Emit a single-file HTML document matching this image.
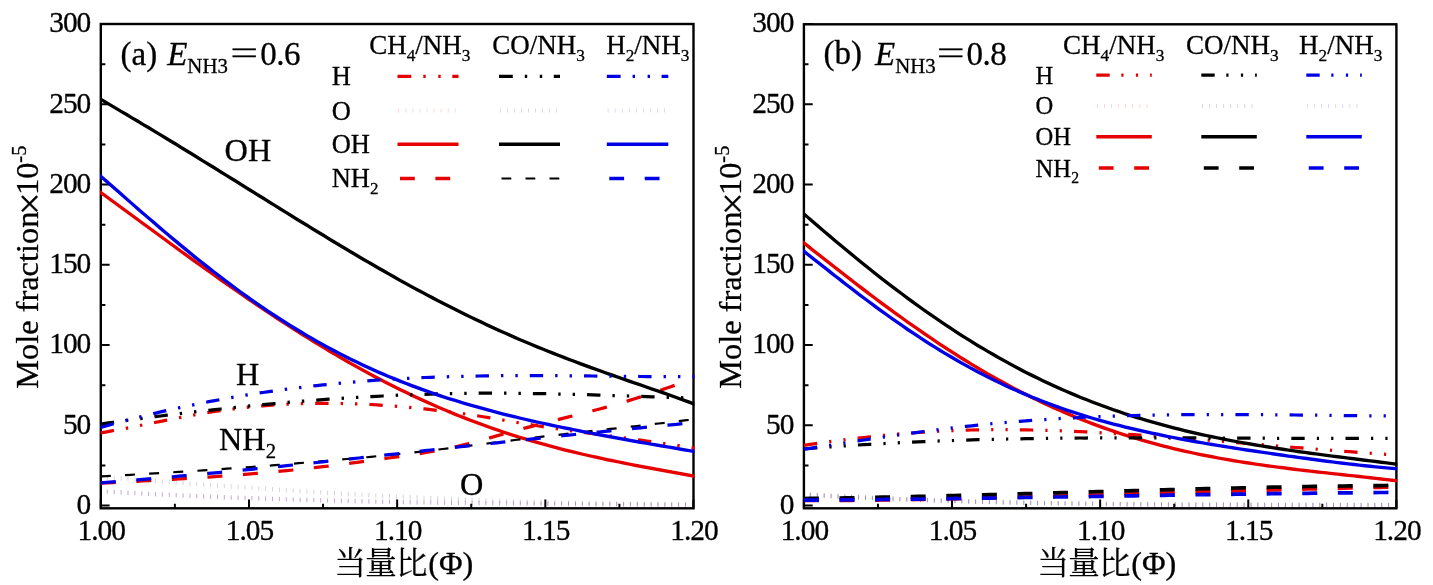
<!DOCTYPE html>
<html lang="zh"><head><meta charset="utf-8"><title>Mole fraction</title>
<style>
html,body{margin:0;padding:0;background:#fff;}
body{width:1433px;height:585px;overflow:hidden;}
svg{display:block;font-family:"Liberation Serif","Noto Serif CJK SC",serif;fill:#000;}
text{stroke:#000;stroke-width:0.3px;stroke-linejoin:round;}
.tk{font-size:29.4px;letter-spacing:-1px;}
.sb{font-size:0.62em;}
</style></head><body>
<svg width="1433" height="585" viewBox="0 0 1433 585">
<rect width="1433" height="585" fill="#fff"/>
<path d="M100.80,508.3 v-8.8 M174.89,508.3 v-4.6 M248.98,508.3 v-8.8 M323.06,508.3 v-4.6 M397.15,508.3 v-8.8 M471.24,508.3 v-4.6 M545.33,508.3 v-8.8 M619.41,508.3 v-4.6 M693.50,508.3 v-8.8 M100.8,505.50 h8.8 M100.8,465.38 h4.6 M100.8,425.27 h8.8 M100.8,385.15 h4.6 M100.8,345.03 h8.8 M100.8,304.92 h4.6 M100.8,264.80 h8.8 M100.8,224.68 h4.6 M100.8,184.57 h8.8 M100.8,144.45 h4.6 M100.8,104.33 h8.8 M100.8,64.22 h4.6 M100.8,24.10 h8.8" stroke="#000" stroke-width="2" fill="none"/>
<rect x="100.8" y="24.0" width="592.7" height="484.3" fill="none" stroke="#000" stroke-width="2.4"/>
<clipPath id="ca"><rect x="100.1" y="24.0" width="594.6" height="484.3"/></clipPath>
<g clip-path="url(#ca)" fill="none">
<path d="M100.8,432.8 106.8,431.8 112.8,430.7 118.8,429.6 124.8,428.5 130.8,427.3 136.8,426.1 142.8,424.9 148.8,423.7 154.8,422.5 160.8,421.3 166.8,420.1 172.8,419.0 178.8,417.8 184.8,416.7 190.8,415.6 196.8,414.5 202.8,413.4 208.8,412.5 214.8,411.5 220.8,410.6 226.8,409.8 232.8,409.0 238.8,408.3 244.8,407.6 250.8,406.9 256.8,406.4 262.8,405.8 268.8,405.4 274.8,404.9 280.8,404.6 286.8,404.2 292.8,404.0 298.8,403.7 304.8,403.6 310.8,403.4 316.8,403.3 322.8,403.3 328.8,403.3 334.8,403.4 340.8,403.5 346.8,403.6 352.8,403.8 358.8,404.0 364.8,404.2 370.8,404.5 376.8,404.9 382.8,405.3 388.8,405.7 394.8,406.1 400.7,406.6 406.7,407.1 412.7,407.7 418.7,408.3 424.7,408.9 430.7,409.6 436.7,410.3 442.7,411.0 448.7,411.7 454.7,412.5 460.7,413.3 466.7,414.2 472.7,415.1 478.7,416.0 484.7,417.0 490.7,418.0 496.7,419.0 502.7,420.0 508.7,421.0 514.7,422.0 520.7,423.1 526.7,424.1 532.7,425.0 538.7,426.0 544.7,426.9 550.7,427.8 556.7,428.7 562.7,429.5 568.7,430.4 574.7,431.2 580.7,432.0 586.7,432.8 592.7,433.6 598.7,434.4 604.7,435.2 610.7,436.0 616.7,436.9 622.7,437.7 628.7,438.5 634.7,439.3 640.7,440.2 646.7,441.0 652.7,441.8 658.7,442.7 664.7,443.6 670.7,444.4 676.7,445.3 682.7,446.2 688.7,447.1 694.7,448.0" stroke="#e60000" stroke-width="3.25" stroke-dasharray="13.4 12.00 2.4 12.00 2.4 12.00" stroke-dashoffset="0"/>
<path d="M107.3,489.4v4.4M114.2,489.8v4.4M121.1,490.2v4.4M128.0,490.6v4.4M134.9,490.9v4.4M141.8,491.3v4.4M148.6,491.7v4.4M155.5,492.0v4.4M162.4,492.3v4.4M169.3,492.7v4.4M176.2,493.0v4.4M183.1,493.3v4.4M189.9,493.6v4.4M196.8,493.9v4.4M203.7,494.2v4.4M210.6,494.5v4.4M217.5,494.8v4.4M224.3,495.0v4.4M231.2,495.3v4.4M238.1,495.6v4.4M245.0,495.8v4.4M251.9,496.0v4.4M258.8,496.3v4.4M265.6,496.5v4.4M272.5,496.7v4.4M279.4,496.9v4.4M286.3,497.2v4.4M293.2,497.4v4.4M300.1,497.6v4.4M306.9,497.7v4.4M313.8,497.9v4.4M320.7,498.1v4.4M327.6,498.3v4.4M334.5,498.5v4.4M341.4,498.6v4.4M348.2,498.8v4.4M355.1,498.9v4.4M362.0,499.1v4.4M368.9,499.2v4.4M375.8,499.4v4.4M382.7,499.5v4.4M389.5,499.6v4.4M396.4,499.8v4.4M403.3,499.9v4.4M410.2,500.0v4.4M417.1,500.1v4.4M424.0,500.2v4.4M430.8,500.3v4.4M437.7,500.4v4.4M444.6,500.5v4.4M451.5,500.6v4.4M458.4,500.7v4.4M465.3,500.8v4.4M472.1,500.9v4.4M479.0,501.0v4.4M485.9,501.1v4.4M492.8,501.2v4.4M499.7,501.2v4.4M506.6,501.3v4.4M513.4,501.4v4.4M520.3,501.4v4.4M527.2,501.5v4.4M534.1,501.6v4.4M541.0,501.6v4.4M547.9,501.7v4.4M554.7,501.8v4.4M561.6,501.8v4.4M568.5,501.9v4.4M575.4,501.9v4.4M582.3,502.0v4.4M589.1,502.0v4.4M596.0,502.1v4.4M602.9,502.1v4.4M609.8,502.2v4.4M616.7,502.2v4.4M623.6,502.3v4.4M630.4,502.3v4.4M637.3,502.4v4.4M644.2,502.4v4.4M651.1,502.5v4.4M658.0,502.5v4.4M664.9,502.6v4.4M671.7,502.6v4.4M678.6,502.7v4.4M685.5,502.7v4.4M692.4,502.8v4.4" stroke="#d00000" stroke-opacity="0.28" stroke-width="0.55"/>
<path d="M100.1,190.0 105.6,194.0 111.0,198.0 116.5,202.0 121.9,205.9 127.4,209.9 132.8,213.9 138.3,217.9 143.7,221.9 149.2,226.0 154.7,230.0 160.1,234.0 165.6,237.9 171.0,241.9 176.5,245.9 181.9,249.9 187.4,253.8 192.8,257.8 198.3,261.7 203.7,265.6 209.2,269.5 214.7,273.4 220.1,277.3 225.6,281.1 231.0,285.0 236.5,288.8 241.9,292.5 247.4,296.3 252.8,300.0 258.3,303.7 263.8,307.4 269.2,311.1 274.7,314.7 280.1,318.3 285.6,321.8 291.0,325.3 296.5,328.8 301.9,332.3 307.4,335.7 312.8,339.1 318.3,342.4 323.8,345.7 329.2,349.0 334.7,352.2 340.1,355.4 345.6,358.6 351.0,361.7 356.5,364.7 361.9,367.7 367.4,370.7 372.9,373.7 378.3,376.6 383.8,379.4 389.2,382.2 394.7,385.0 400.1,387.7 405.6,390.3 411.0,393.0 416.5,395.5 421.9,398.1 427.4,400.5 432.9,403.0 438.3,405.4 443.8,407.7 449.2,410.0 454.7,412.2 460.1,414.4 465.6,416.6 471.0,418.7 476.5,420.8 482.0,422.8 487.4,424.7 492.9,426.7 498.3,428.6 503.8,430.4 509.2,432.2 514.7,433.9 520.1,435.7 525.6,437.3 531.0,438.9 536.5,440.5 542.0,442.1 547.4,443.6 552.9,445.1 558.3,446.5 563.8,447.9 569.2,449.3 574.7,450.6 580.1,451.9 585.6,453.2 591.1,454.4 596.5,455.6 602.0,456.8 607.4,458.0 612.9,459.1 618.3,460.2 623.8,461.3 629.2,462.4 634.7,463.5 640.1,464.5 645.6,465.5 651.1,466.5 656.5,467.6 662.0,468.6 667.4,469.5 672.9,470.5 678.3,471.5 683.8,472.5 689.2,473.5 694.7,474.5 694.7,477.9 689.2,476.9 683.8,475.9 678.3,474.9 672.9,473.9 667.4,473.0 662.0,472.0 656.5,471.0 651.1,470.0 645.6,468.9 640.1,467.9 634.7,466.9 629.2,465.8 623.8,464.7 618.3,463.6 612.9,462.5 607.4,461.4 602.0,460.2 596.5,459.1 591.1,457.8 585.6,456.6 580.1,455.3 574.7,454.0 569.2,452.7 563.8,451.4 558.3,450.0 552.9,448.5 547.4,447.1 542.0,445.6 536.5,444.0 531.0,442.4 525.6,440.8 520.1,439.2 514.7,437.5 509.2,435.7 503.8,433.9 498.3,432.1 492.9,430.2 487.4,428.3 482.0,426.3 476.5,424.3 471.0,422.3 465.6,420.2 460.1,418.0 454.7,415.9 449.2,413.6 443.8,411.3 438.3,409.0 432.9,406.6 427.4,404.2 421.9,401.7 416.5,399.2 411.0,396.7 405.6,394.1 400.1,391.4 394.7,388.7 389.2,386.0 383.8,383.2 378.3,380.3 372.9,377.5 367.4,374.5 361.9,371.6 356.5,368.6 351.0,365.5 345.6,362.4 340.1,359.3 334.7,356.1 329.2,352.9 323.8,349.6 318.3,346.3 312.8,343.0 307.4,339.6 301.9,336.2 296.5,332.8 291.0,329.3 285.6,325.8 280.1,322.3 274.7,318.7 269.2,315.1 263.8,311.4 258.3,307.8 252.8,304.1 247.4,300.4 241.9,296.6 236.5,292.8 231.0,289.0 225.6,285.2 220.1,281.4 214.7,277.5 209.2,273.6 203.7,269.8 198.3,265.8 192.8,261.9 187.4,258.0 181.9,254.0 176.5,250.1 171.0,246.1 165.6,242.1 160.1,238.1 154.7,234.1 149.2,230.1 143.7,226.1 138.3,222.1 132.8,218.1 127.4,214.1 121.9,210.1 116.5,206.1 111.0,202.1 105.6,198.1 100.1,194.2Z" fill="#e60000"/>
<path d="M100.8,483.2 106.8,482.9 112.8,482.6 118.8,482.3 124.8,482.0 130.8,481.7 136.8,481.4 142.8,481.0 148.8,480.7 154.8,480.4 160.8,480.1 166.8,479.7 172.8,479.4 178.8,479.0 184.8,478.6 190.8,478.3 196.8,477.9 202.8,477.5 208.8,477.1 214.8,476.7 220.8,476.2 226.8,475.8 232.8,475.3 238.8,474.9 244.8,474.4 250.8,473.9 256.8,473.4 262.8,472.9 268.8,472.3 274.8,471.8 280.8,471.2 286.8,470.6 292.8,470.0 298.8,469.4 304.8,468.7 310.8,468.1 316.8,467.4 322.8,466.7 328.8,466.0 334.8,465.2 340.8,464.5 346.8,463.7 352.8,462.9 358.8,462.1 364.8,461.3 370.8,460.5 376.8,459.6 382.8,458.8 388.8,458.0 394.8,457.2 400.7,456.3 406.7,455.5 412.7,454.6 418.7,453.7 424.7,452.7 430.7,451.7 436.7,450.7 442.7,449.6 448.7,448.4 454.7,447.1 460.7,445.7 466.7,444.2 472.7,442.6 478.7,441.0 484.7,439.3 490.7,437.6 496.7,435.9 502.7,434.2 508.7,432.5 514.7,430.9 520.7,429.3 526.7,427.6 532.7,426.1 538.7,424.5 544.7,423.0 550.7,421.5 556.7,419.9 562.7,418.4 568.7,416.9 574.7,415.4 580.7,413.9 586.7,412.4 592.7,410.8 598.7,409.2 604.7,407.6 610.7,405.9 616.7,404.2 622.7,402.5 628.7,400.6 634.7,398.8 640.7,396.9 646.7,394.9 652.7,392.9 658.7,390.9 664.7,388.8 670.7,386.7 676.7,384.7 682.7,382.6 688.7,380.6 694.7,378.6" stroke="#e60000" stroke-width="3.25" stroke-dasharray="15 20.6" stroke-dashoffset="0"/>
<path d="M100.8,424.0 106.8,423.2 112.8,422.3 118.8,421.5 124.8,420.7 130.8,419.9 136.8,419.1 142.8,418.3 148.8,417.5 154.8,416.7 160.8,416.0 166.8,415.2 172.8,414.5 178.8,413.8 184.8,413.0 190.8,412.3 196.8,411.6 202.8,411.0 208.8,410.3 214.8,409.6 220.8,409.0 226.8,408.3 232.8,407.7 238.8,407.1 244.8,406.4 250.8,405.8 256.8,405.3 262.8,404.7 268.8,404.1 274.8,403.6 280.8,403.0 286.8,402.5 292.8,402.0 298.8,401.5 304.8,401.0 310.8,400.5 316.8,400.1 322.8,399.6 328.8,399.2 334.8,398.8 340.8,398.4 346.8,398.0 352.8,397.6 358.8,397.3 364.8,396.9 370.8,396.6 376.8,396.3 382.8,396.0 388.8,395.7 394.8,395.4 400.7,395.1 406.7,394.9 412.7,394.7 418.7,394.5 424.7,394.3 430.7,394.1 436.7,393.9 442.7,393.8 448.7,393.6 454.7,393.5 460.7,393.4 466.7,393.3 472.7,393.3 478.7,393.2 484.7,393.2 490.7,393.2 496.7,393.2 502.7,393.2 508.7,393.2 514.7,393.3 520.7,393.3 526.7,393.4 532.7,393.5 538.7,393.6 544.7,393.7 550.7,393.8 556.7,394.0 562.7,394.1 568.7,394.3 574.7,394.4 580.7,394.6 586.7,394.7 592.7,394.9 598.7,395.1 604.7,395.3 610.7,395.5 616.7,395.6 622.7,395.8 628.7,396.0 634.7,396.2 640.7,396.4 646.7,396.6 652.7,396.8 658.7,397.0 664.7,397.2 670.7,397.4 676.7,397.6 682.7,397.8 688.7,398.0 694.7,398.2" stroke="#000" stroke-width="3.25" stroke-dasharray="13.4 12.00 2.4 12.00 2.4 12.00" stroke-dashoffset="0"/>
<path d="M107.3,475.3v4.4M114.2,475.8v4.4M121.1,476.3v4.4M128.0,476.8v4.4M134.9,477.3v4.4M141.8,477.8v4.4M148.6,478.3v4.4M155.5,478.8v4.4M162.4,479.3v4.4M169.3,479.8v4.4M176.2,480.3v4.4M183.1,480.8v4.4M189.9,481.3v4.4M196.8,481.8v4.4M203.7,482.3v4.4M210.6,482.8v4.4M217.5,483.3v4.4M224.3,483.8v4.4M231.2,484.3v4.4M238.1,484.7v4.4M245.0,485.2v4.4M251.9,485.7v4.4M258.8,486.2v4.4M265.6,486.6v4.4M272.5,487.1v4.4M279.4,487.6v4.4M286.3,488.0v4.4M293.2,488.5v4.4M300.1,488.9v4.4M306.9,489.3v4.4M313.8,489.8v4.4M320.7,490.2v4.4M327.6,490.6v4.4M334.5,491.0v4.4M341.4,491.4v4.4M348.2,491.8v4.4M355.1,492.2v4.4M362.0,492.6v4.4M368.9,493.0v4.4M375.8,493.3v4.4M382.7,493.7v4.4M389.5,494.0v4.4M396.4,494.4v4.4M403.3,494.7v4.4M410.2,495.0v4.4M417.1,495.4v4.4M424.0,495.7v4.4M430.8,496.0v4.4M437.7,496.3v4.4M444.6,496.6v4.4M451.5,496.9v4.4M458.4,497.1v4.4M465.3,497.4v4.4M472.1,497.7v4.4M479.0,497.9v4.4M485.9,498.2v4.4M492.8,498.4v4.4M499.7,498.6v4.4M506.6,498.8v4.4M513.4,499.1v4.4M520.3,499.3v4.4M527.2,499.5v4.4M534.1,499.6v4.4M541.0,499.8v4.4M547.9,500.0v4.4M554.7,500.2v4.4M561.6,500.3v4.4M568.5,500.5v4.4M575.4,500.6v4.4M582.3,500.8v4.4M589.1,500.9v4.4M596.0,501.0v4.4M602.9,501.1v4.4M609.8,501.2v4.4M616.7,501.3v4.4M623.6,501.4v4.4M630.4,501.5v4.4M637.3,501.5v4.4M644.2,501.6v4.4M651.1,501.6v4.4M658.0,501.7v4.4M664.9,501.7v4.4M671.7,501.8v4.4M678.6,501.8v4.4M685.5,501.8v4.4M692.4,501.8v4.4" stroke="#000" stroke-opacity="0.3" stroke-width="0.55"/>
<path d="M100.1,97.0 105.6,100.2 111.0,103.5 116.5,106.7 121.9,109.9 127.4,113.1 132.8,116.4 138.3,119.6 143.7,122.9 149.2,126.1 154.7,129.4 160.1,132.7 165.6,136.0 171.0,139.3 176.5,142.6 181.9,146.0 187.4,149.3 192.8,152.6 198.3,156.0 203.7,159.4 209.2,162.7 214.7,166.1 220.1,169.5 225.6,172.9 231.0,176.2 236.5,179.6 241.9,183.0 247.4,186.4 252.8,189.8 258.3,193.2 263.8,196.6 269.2,200.0 274.7,203.4 280.1,206.8 285.6,210.2 291.0,213.5 296.5,216.9 301.9,220.3 307.4,223.6 312.8,227.0 318.3,230.3 323.8,233.6 329.2,236.9 334.7,240.2 340.1,243.5 345.6,246.8 351.0,250.0 356.5,253.3 361.9,256.5 367.4,259.7 372.9,262.8 378.3,266.0 383.8,269.1 389.2,272.2 394.7,275.3 400.1,278.4 405.6,281.4 411.0,284.4 416.5,287.4 421.9,290.3 427.4,293.2 432.9,296.1 438.3,299.0 443.8,301.8 449.2,304.6 454.7,307.3 460.1,310.1 465.6,312.8 471.0,315.4 476.5,318.0 482.0,320.6 487.4,323.2 492.9,325.7 498.3,328.2 503.8,330.7 509.2,333.1 514.7,335.5 520.1,337.9 525.6,340.2 531.0,342.5 536.5,344.7 542.0,347.0 547.4,349.2 552.9,351.3 558.3,353.5 563.8,355.6 569.2,357.7 574.7,359.8 580.1,361.8 585.6,363.8 591.1,365.8 596.5,367.8 602.0,369.7 607.4,371.7 612.9,373.6 618.3,375.5 623.8,377.4 629.2,379.3 634.7,381.2 640.1,383.1 645.6,385.0 651.1,386.9 656.5,388.7 662.0,390.6 667.4,392.5 672.9,394.5 678.3,396.4 683.8,398.4 689.2,400.3 694.7,402.4 694.7,405.9 689.2,403.9 683.8,401.9 678.3,400.0 672.9,398.0 667.4,396.1 662.0,394.2 656.5,392.3 651.1,390.4 645.6,388.5 640.1,386.6 634.7,384.7 629.2,382.9 623.8,381.0 618.3,379.1 612.9,377.2 607.4,375.2 602.0,373.3 596.5,371.3 591.1,369.4 585.6,367.4 580.1,365.4 574.7,363.3 569.2,361.3 563.8,359.2 558.3,357.1 552.9,355.0 547.4,352.8 542.0,350.6 536.5,348.4 531.0,346.1 525.6,343.8 520.1,341.5 514.7,339.2 509.2,336.8 503.8,334.3 498.3,331.9 492.9,329.4 487.4,326.9 482.0,324.3 476.5,321.8 471.0,319.1 465.6,316.5 460.1,313.8 454.7,311.1 449.2,308.3 443.8,305.5 438.3,302.7 432.9,299.9 427.4,297.0 421.9,294.1 416.5,291.2 411.0,288.2 405.6,285.2 400.1,282.2 394.7,279.2 389.2,276.1 383.8,273.0 378.3,269.9 372.9,266.7 367.4,263.6 361.9,260.4 356.5,257.2 351.0,253.9 345.6,250.7 340.1,247.4 334.7,244.2 329.2,240.9 323.8,237.6 318.3,234.2 312.8,230.9 307.4,227.6 301.9,224.2 296.5,220.9 291.0,217.5 285.6,214.1 280.1,210.7 274.7,207.3 269.2,203.9 263.8,200.6 258.3,197.2 252.8,193.8 247.4,190.4 241.9,187.0 236.5,183.6 231.0,180.2 225.6,176.8 220.1,173.4 214.7,170.0 209.2,166.7 203.7,163.3 198.3,159.9 192.8,156.6 187.4,153.2 181.9,149.9 176.5,146.6 171.0,143.2 165.6,139.9 160.1,136.6 154.7,133.3 149.2,130.1 143.7,126.8 138.3,123.5 132.8,120.3 127.4,117.0 121.9,113.8 116.5,110.6 111.0,107.3 105.6,104.1 100.1,100.9Z" fill="#000"/>
<path d="M100.8,476.4 106.8,476.1 112.8,475.8 118.8,475.4 124.8,475.1 130.8,474.8 136.8,474.4 142.8,474.1 148.8,473.7 154.8,473.4 160.8,473.0 166.8,472.7 172.8,472.3 178.8,471.9 184.8,471.5 190.8,471.1 196.8,470.8 202.8,470.4 208.8,470.0 214.8,469.6 220.8,469.1 226.8,468.7 232.8,468.3 238.8,467.9 244.8,467.4 250.8,467.0 256.8,466.5 262.8,466.1 268.8,465.6 274.8,465.2 280.8,464.7 286.8,464.2 292.8,463.7 298.8,463.2 304.8,462.7 310.8,462.2 316.8,461.7 322.8,461.2 328.8,460.7 334.8,460.1 340.8,459.6 346.8,459.0 352.8,458.5 358.8,457.9 364.8,457.4 370.8,456.8 376.8,456.2 382.8,455.6 388.8,455.0 394.8,454.4 400.7,453.8 406.7,453.1 412.7,452.5 418.7,451.8 424.7,451.1 430.7,450.4 436.7,449.7 442.7,449.0 448.7,448.3 454.7,447.5 460.7,446.8 466.7,446.0 472.7,445.3 478.7,444.5 484.7,443.8 490.7,443.0 496.7,442.3 502.7,441.5 508.7,440.8 514.7,440.0 520.7,439.3 526.7,438.5 532.7,437.8 538.7,437.1 544.7,436.4 550.7,435.7 556.7,435.0 562.7,434.3 568.7,433.6 574.7,432.9 580.7,432.3 586.7,431.6 592.7,430.9 598.7,430.3 604.7,429.6 610.7,428.9 616.7,428.3 622.7,427.6 628.7,426.9 634.7,426.3 640.7,425.6 646.7,424.9 652.7,424.2 658.7,423.5 664.7,422.8 670.7,422.1 676.7,421.4 682.7,420.6 688.7,419.9 694.7,419.1" stroke="#000" stroke-width="2.2" stroke-dasharray="10 14.2" stroke-dashoffset="0"/>
<path d="M100.8,427.4 106.8,425.7 112.8,424.0 118.8,422.4 124.8,420.8 130.8,419.2 136.8,417.7 142.8,416.2 148.8,414.7 154.8,413.3 160.8,411.9 166.8,410.5 172.8,409.1 178.8,407.8 184.8,406.5 190.8,405.3 196.8,404.1 202.8,402.9 208.8,401.7 214.8,400.6 220.8,399.5 226.8,398.4 232.8,397.3 238.8,396.3 244.8,395.3 250.8,394.4 256.8,393.4 262.8,392.5 268.8,391.7 274.8,390.8 280.8,390.0 286.8,389.2 292.8,388.4 298.8,387.7 304.8,386.9 310.8,386.2 316.8,385.6 322.8,384.9 328.8,384.3 334.8,383.7 340.8,383.1 346.8,382.6 352.8,382.1 358.8,381.6 364.8,381.1 370.8,380.6 376.8,380.2 382.8,379.8 388.8,379.4 394.8,379.0 400.7,378.7 406.7,378.4 412.7,378.1 418.7,377.8 424.7,377.5 430.7,377.3 436.7,377.1 442.7,376.9 448.7,376.7 454.7,376.5 460.7,376.4 466.7,376.2 472.7,376.1 478.7,376.0 484.7,375.9 490.7,375.8 496.7,375.8 502.7,375.7 508.7,375.7 514.7,375.7 520.7,375.6 526.7,375.6 532.7,375.6 538.7,375.6 544.7,375.7 550.7,375.7 556.7,375.7 562.7,375.8 568.7,375.8 574.7,375.8 580.7,375.9 586.7,375.9 592.7,376.0 598.7,376.1 604.7,376.1 610.7,376.2 616.7,376.2 622.7,376.3 628.7,376.4 634.7,376.4 640.7,376.5 646.7,376.5 652.7,376.6 658.7,376.6 664.7,376.6 670.7,376.7 676.7,376.7 682.7,376.7 688.7,376.7 694.7,376.7" stroke="#0000e6" stroke-width="3.25" stroke-dasharray="13.4 12.00 2.4 12.00 2.4 12.00" stroke-dashoffset="0"/>
<path d="M107.3,489.4v4.4M114.2,489.8v4.4M121.1,490.2v4.4M128.0,490.6v4.4M134.9,490.9v4.4M141.8,491.3v4.4M148.6,491.7v4.4M155.5,492.0v4.4M162.4,492.3v4.4M169.3,492.7v4.4M176.2,493.0v4.4M183.1,493.3v4.4M189.9,493.6v4.4M196.8,493.9v4.4M203.7,494.2v4.4M210.6,494.5v4.4M217.5,494.8v4.4M224.3,495.0v4.4M231.2,495.3v4.4M238.1,495.6v4.4M245.0,495.8v4.4M251.9,496.0v4.4M258.8,496.3v4.4M265.6,496.5v4.4M272.5,496.7v4.4M279.4,496.9v4.4M286.3,497.2v4.4M293.2,497.4v4.4M300.1,497.6v4.4M306.9,497.7v4.4M313.8,497.9v4.4M320.7,498.1v4.4M327.6,498.3v4.4M334.5,498.5v4.4M341.4,498.6v4.4M348.2,498.8v4.4M355.1,498.9v4.4M362.0,499.1v4.4M368.9,499.2v4.4M375.8,499.4v4.4M382.7,499.5v4.4M389.5,499.6v4.4M396.4,499.8v4.4M403.3,499.9v4.4M410.2,500.0v4.4M417.1,500.1v4.4M424.0,500.2v4.4M430.8,500.3v4.4M437.7,500.4v4.4M444.6,500.5v4.4M451.5,500.6v4.4M458.4,500.7v4.4M465.3,500.8v4.4M472.1,500.9v4.4M479.0,501.0v4.4M485.9,501.1v4.4M492.8,501.2v4.4M499.7,501.2v4.4M506.6,501.3v4.4M513.4,501.4v4.4M520.3,501.4v4.4M527.2,501.5v4.4M534.1,501.6v4.4M541.0,501.6v4.4M547.9,501.7v4.4M554.7,501.8v4.4M561.6,501.8v4.4M568.5,501.9v4.4M575.4,501.9v4.4M582.3,502.0v4.4M589.1,502.0v4.4M596.0,502.1v4.4M602.9,502.1v4.4M609.8,502.2v4.4M616.7,502.2v4.4M623.6,502.3v4.4M630.4,502.3v4.4M637.3,502.4v4.4M644.2,502.4v4.4M651.1,502.5v4.4M658.0,502.5v4.4M664.9,502.6v4.4M671.7,502.6v4.4M678.6,502.7v4.4M685.5,502.7v4.4M692.4,502.8v4.4" stroke="#0000c0" stroke-opacity="0.4" stroke-width="0.55"/>
<path d="M100.1,173.4 105.6,178.2 111.0,183.0 116.5,187.8 121.9,192.6 127.4,197.4 132.8,202.2 138.3,206.9 143.7,211.7 149.2,216.4 154.7,221.1 160.1,225.8 165.6,230.4 171.0,235.0 176.5,239.6 181.9,244.1 187.4,248.6 192.8,253.1 198.3,257.5 203.7,261.8 209.2,266.1 214.7,270.4 220.1,274.6 225.6,278.8 231.0,282.8 236.5,286.9 241.9,290.9 247.4,294.8 252.8,298.7 258.3,302.5 263.8,306.2 269.2,309.9 274.7,313.5 280.1,317.1 285.6,320.6 291.0,324.0 296.5,327.3 301.9,330.6 307.4,333.9 312.8,337.0 318.3,340.2 323.8,343.2 329.2,346.2 334.7,349.1 340.1,351.9 345.6,354.7 351.0,357.5 356.5,360.1 361.9,362.7 367.4,365.3 372.9,367.8 378.3,370.2 383.8,372.6 389.2,374.9 394.7,377.1 400.1,379.3 405.6,381.5 411.0,383.6 416.5,385.6 421.9,387.6 427.4,389.6 432.9,391.5 438.3,393.3 443.8,395.2 449.2,396.9 454.7,398.6 460.1,400.3 465.6,402.0 471.0,403.6 476.5,405.1 482.0,406.6 487.4,408.1 492.9,409.6 498.3,411.0 503.8,412.4 509.2,413.8 514.7,415.1 520.1,416.4 525.6,417.7 531.0,418.9 536.5,420.2 542.0,421.4 547.4,422.6 552.9,423.7 558.3,424.9 563.8,426.0 569.2,427.1 574.7,428.2 580.1,429.3 585.6,430.4 591.1,431.4 596.5,432.5 602.0,433.5 607.4,434.5 612.9,435.5 618.3,436.5 623.8,437.5 629.2,438.5 634.7,439.5 640.1,440.5 645.6,441.4 651.1,442.4 656.5,443.3 662.0,444.3 667.4,445.2 672.9,446.1 678.3,447.1 683.8,448.0 689.2,448.9 694.7,449.8 694.7,453.2 689.2,452.3 683.8,451.4 678.3,450.5 672.9,449.5 667.4,448.6 662.0,447.7 656.5,446.7 651.1,445.8 645.6,444.8 640.1,443.9 634.7,442.9 629.2,441.9 623.8,440.9 618.3,439.9 612.9,438.9 607.4,437.9 602.0,436.9 596.5,435.9 591.1,434.8 585.6,433.8 580.1,432.7 574.7,431.6 569.2,430.5 563.8,429.4 558.3,428.3 552.9,427.2 547.4,426.0 542.0,424.8 536.5,423.6 531.0,422.4 525.6,421.1 520.1,419.8 514.7,418.5 509.2,417.2 503.8,415.9 498.3,414.5 492.9,413.0 487.4,411.6 482.0,410.1 476.5,408.6 471.0,407.0 465.6,405.4 460.1,403.8 454.7,402.1 449.2,400.4 443.8,398.7 438.3,396.9 432.9,395.0 427.4,393.1 421.9,391.2 416.5,389.2 411.0,387.2 405.6,385.1 400.1,383.0 394.7,380.8 389.2,378.5 383.8,376.2 378.3,373.9 372.9,371.4 367.4,369.0 361.9,366.4 356.5,363.8 351.0,361.2 345.6,358.5 340.1,355.7 334.7,352.9 329.2,350.0 323.8,347.0 318.3,344.0 312.8,340.9 307.4,337.8 301.9,334.5 296.5,331.3 291.0,327.9 285.6,324.5 280.1,321.0 274.7,317.5 269.2,313.9 263.8,310.3 258.3,306.5 252.8,302.8 247.4,298.9 241.9,295.0 236.5,291.0 231.0,287.0 225.6,282.9 220.1,278.8 214.7,274.6 209.2,270.4 203.7,266.1 198.3,261.8 192.8,257.4 187.4,252.9 181.9,248.5 176.5,243.9 171.0,239.4 165.6,234.8 160.1,230.2 154.7,225.5 149.2,220.8 143.7,216.1 138.3,211.4 132.8,206.6 127.4,201.8 121.9,197.1 116.5,192.3 111.0,187.5 105.6,182.7 100.1,177.9Z" fill="#0000e6"/>
<path d="M100.8,482.8 106.8,482.4 112.8,481.9 118.8,481.4 124.8,480.9 130.8,480.4 136.8,479.9 142.8,479.4 148.8,478.9 154.8,478.4 160.8,477.9 166.8,477.3 172.8,476.8 178.8,476.2 184.8,475.7 190.8,475.1 196.8,474.6 202.8,474.0 208.8,473.4 214.8,472.9 220.8,472.3 226.8,471.7 232.8,471.1 238.8,470.5 244.8,469.9 250.8,469.3 256.8,468.7 262.8,468.1 268.8,467.5 274.8,466.9 280.8,466.3 286.8,465.6 292.8,465.0 298.8,464.4 304.8,463.8 310.8,463.1 316.8,462.5 322.8,461.8 328.8,461.2 334.8,460.6 340.8,459.9 346.8,459.3 352.8,458.6 358.8,458.0 364.8,457.3 370.8,456.6 376.8,456.0 382.8,455.3 388.8,454.7 394.8,454.0 400.7,453.4 406.7,452.7 412.7,452.0 418.7,451.4 424.7,450.7 430.7,450.0 436.7,449.4 442.7,448.7 448.7,448.1 454.7,447.4 460.7,446.7 466.7,446.1 472.7,445.4 478.7,444.8 484.7,444.1 490.7,443.5 496.7,442.8 502.7,442.2 508.7,441.5 514.7,440.9 520.7,440.2 526.7,439.6 532.7,438.9 538.7,438.3 544.7,437.6 550.7,437.0 556.7,436.4 562.7,435.7 568.7,435.1 574.7,434.5 580.7,433.9 586.7,433.3 592.7,432.6 598.7,432.0 604.7,431.4 610.7,430.8 616.7,430.2 622.7,429.6 628.7,429.0 634.7,428.4 640.7,427.8 646.7,427.2 652.7,426.6 658.7,426.0 664.7,425.4 670.7,424.8 676.7,424.3 682.7,423.7 688.7,423.1 694.7,422.5" stroke="#0000e6" stroke-width="3.25" stroke-dasharray="15 20.6" stroke-dashoffset="0"/>
</g>
<text x="90.3" y="513.7" text-anchor="end" class="tk">0</text>
<text x="90.3" y="433.5" text-anchor="end" class="tk">50</text>
<text x="90.3" y="353.2" text-anchor="end" class="tk">100</text>
<text x="90.3" y="273.0" text-anchor="end" class="tk">150</text>
<text x="90.3" y="192.8" text-anchor="end" class="tk">200</text>
<text x="90.3" y="112.5" text-anchor="end" class="tk">250</text>
<text x="90.3" y="32.3" text-anchor="end" class="tk">300</text>
<text x="101.3" y="540.0" text-anchor="middle" class="tk">1.00</text>
<text x="249.5" y="540.0" text-anchor="middle" class="tk">1.05</text>
<text x="397.7" y="540.0" text-anchor="middle" class="tk">1.10</text>
<text x="545.8" y="540.0" text-anchor="middle" class="tk">1.15</text>
<text x="694.0" y="540.0" text-anchor="middle" class="tk">1.20</text>
<path d="M803.90,508.3 v-8.8 M877.96,508.3 v-4.6 M952.02,508.3 v-8.8 M1026.09,508.3 v-4.6 M1100.15,508.3 v-8.8 M1174.21,508.3 v-4.6 M1248.28,508.3 v-8.8 M1322.34,508.3 v-4.6 M1396.40,508.3 v-8.8 M803.9,505.50 h8.8 M803.9,465.38 h4.6 M803.9,425.27 h8.8 M803.9,385.15 h4.6 M803.9,345.03 h8.8 M803.9,304.92 h4.6 M803.9,264.80 h8.8 M803.9,224.68 h4.6 M803.9,184.57 h8.8 M803.9,144.45 h4.6 M803.9,104.33 h8.8 M803.9,64.22 h4.6 M803.9,24.10 h8.8" stroke="#000" stroke-width="2" fill="none"/>
<rect x="803.9" y="24.3" width="592.5000000000001" height="484.0" fill="none" stroke="#000" stroke-width="2.4"/>
<clipPath id="cb"><rect x="803.1999999999999" y="24.3" width="594.4000000000001" height="484.0"/></clipPath>
<g clip-path="url(#cb)" fill="none">
<path d="M803.9,445.3 809.9,444.4 815.9,443.6 821.9,442.7 827.9,441.9 833.9,441.1 839.9,440.3 845.9,439.6 851.9,438.8 857.9,438.1 863.9,437.5 869.9,436.8 875.9,436.2 881.9,435.6 887.9,435.0 893.9,434.4 899.9,433.9 905.8,433.4 911.8,433.0 917.8,432.5 923.8,432.1 929.8,431.8 935.8,431.4 941.8,431.1 947.8,430.8 953.8,430.6 959.8,430.3 965.8,430.2 971.8,430.0 977.8,429.9 983.8,429.8 989.8,429.7 995.8,429.7 1001.8,429.6 1007.8,429.7 1013.8,429.7 1019.8,429.8 1025.8,429.8 1031.8,430.0 1037.8,430.1 1043.8,430.3 1049.8,430.4 1055.8,430.6 1061.8,430.8 1067.8,431.1 1073.8,431.3 1079.8,431.6 1085.8,431.9 1091.8,432.2 1097.8,432.5 1103.7,432.9 1109.7,433.2 1115.7,433.6 1121.7,433.9 1127.7,434.3 1133.7,434.7 1139.7,435.1 1145.7,435.5 1151.7,435.9 1157.7,436.4 1163.7,436.8 1169.7,437.3 1175.7,437.7 1181.7,438.2 1187.7,438.6 1193.7,439.1 1199.7,439.6 1205.7,440.0 1211.7,440.5 1217.7,441.0 1223.7,441.5 1229.7,442.0 1235.7,442.5 1241.7,443.0 1247.7,443.5 1253.7,444.0 1259.7,444.5 1265.7,445.0 1271.7,445.5 1277.7,446.0 1283.7,446.5 1289.7,447.0 1295.7,447.5 1301.6,447.9 1307.6,448.4 1313.6,448.9 1319.6,449.4 1325.6,449.9 1331.6,450.3 1337.6,450.8 1343.6,451.3 1349.6,451.7 1355.6,452.2 1361.6,452.6 1367.6,453.0 1373.6,453.5 1379.6,453.9 1385.6,454.3 1391.6,454.7 1397.6,455.1" stroke="#e60000" stroke-width="3.25" stroke-dasharray="13.4 12.13 2.2 12.13 2.2 12.13" stroke-dashoffset="0"/>
<path d="M810.4,492.7v4.4M817.3,493.1v4.4M824.2,493.5v4.4M831.1,493.9v4.4M838.0,494.2v4.4M844.9,494.6v4.4M851.7,494.9v4.4M858.6,495.2v4.4M865.5,495.6v4.4M872.4,495.9v4.4M879.3,496.2v4.4M886.2,496.5v4.4M893.0,496.7v4.4M899.9,497.0v4.4M906.8,497.3v4.4M913.7,497.5v4.4M920.6,497.8v4.4M927.4,498.0v4.4M934.3,498.3v4.4M941.2,498.5v4.4M948.1,498.7v4.4M955.0,498.9v4.4M961.9,499.1v4.4M968.7,499.3v4.4M975.6,499.5v4.4M982.5,499.7v4.4M989.4,499.8v4.4M996.3,500.0v4.4M1003.2,500.2v4.4M1010.0,500.3v4.4M1016.9,500.5v4.4M1023.8,500.6v4.4M1030.7,500.7v4.4M1037.6,500.9v4.4M1044.5,501.0v4.4M1051.3,501.1v4.4M1058.2,501.2v4.4M1065.1,501.3v4.4M1072.0,501.4v4.4M1078.9,501.5v4.4M1085.8,501.6v4.4M1092.6,501.7v4.4M1099.5,501.8v4.4M1106.4,501.9v4.4M1113.3,501.9v4.4M1120.2,502.0v4.4M1127.1,502.1v4.4M1133.9,502.1v4.4M1140.8,502.2v4.4M1147.7,502.2v4.4M1154.6,502.3v4.4M1161.5,502.3v4.4M1168.4,502.4v4.4M1175.2,502.4v4.4M1182.1,502.5v4.4M1189.0,502.5v4.4M1195.9,502.5v4.4M1202.8,502.6v4.4M1209.7,502.6v4.4M1216.5,502.6v4.4M1223.4,502.6v4.4M1230.3,502.7v4.4M1237.2,502.7v4.4M1244.1,502.7v4.4M1251.0,502.7v4.4M1257.8,502.7v4.4M1264.7,502.7v4.4M1271.6,502.8v4.4M1278.5,502.8v4.4M1285.4,502.8v4.4M1292.2,502.8v4.4M1299.1,502.8v4.4M1306.0,502.8v4.4M1312.9,502.8v4.4M1319.8,502.8v4.4M1326.7,502.8v4.4M1333.5,502.9v4.4M1340.4,502.9v4.4M1347.3,502.9v4.4M1354.2,502.9v4.4M1361.1,502.9v4.4M1368.0,502.9v4.4M1374.8,502.9v4.4M1381.7,503.0v4.4M1388.6,503.0v4.4" stroke="#d00000" stroke-opacity="0.28" stroke-width="0.55"/>
<path d="M803.2,240.3 808.7,244.6 814.1,248.9 819.6,253.2 825.0,257.5 830.5,261.8 835.9,266.1 841.4,270.3 846.8,274.6 852.3,278.8 857.7,283.0 863.2,287.1 868.6,291.3 874.1,295.4 879.5,299.5 885.0,303.5 890.5,307.6 895.9,311.5 901.4,315.5 906.8,319.4 912.3,323.2 917.7,327.1 923.2,330.8 928.6,334.6 934.1,338.3 939.5,341.9 945.0,345.5 950.4,349.0 955.9,352.5 961.3,356.0 966.8,359.3 972.2,362.7 977.7,366.0 983.2,369.2 988.6,372.4 994.1,375.5 999.5,378.5 1005.0,381.5 1010.4,384.5 1015.9,387.4 1021.3,390.2 1026.8,393.0 1032.2,395.7 1037.7,398.4 1043.1,401.0 1048.6,403.5 1054.0,406.0 1059.5,408.4 1065.0,410.8 1070.4,413.1 1075.9,415.4 1081.3,417.6 1086.8,419.7 1092.2,421.8 1097.7,423.8 1103.1,425.8 1108.6,427.8 1114.0,429.6 1119.5,431.5 1124.9,433.2 1130.4,434.9 1135.8,436.6 1141.3,438.2 1146.8,439.8 1152.2,441.3 1157.7,442.8 1163.1,444.2 1168.6,445.6 1174.0,446.9 1179.5,448.2 1184.9,449.5 1190.4,450.7 1195.8,451.9 1201.3,453.0 1206.7,454.1 1212.2,455.1 1217.6,456.2 1223.1,457.2 1228.6,458.1 1234.0,459.0 1239.5,459.9 1244.9,460.8 1250.4,461.6 1255.8,462.4 1261.3,463.2 1266.7,464.0 1272.2,464.7 1277.6,465.4 1283.1,466.1 1288.5,466.8 1294.0,467.5 1299.4,468.2 1304.9,468.8 1310.3,469.4 1315.8,470.0 1321.3,470.7 1326.7,471.3 1332.2,471.9 1337.6,472.5 1343.1,473.1 1348.5,473.7 1354.0,474.2 1359.4,474.8 1364.9,475.5 1370.3,476.1 1375.8,476.7 1381.2,477.3 1386.7,477.9 1392.1,478.6 1397.6,479.3 1397.6,482.6 1392.1,482.0 1386.7,481.3 1381.2,480.7 1375.8,480.1 1370.3,479.4 1364.9,478.8 1359.4,478.2 1354.0,477.6 1348.5,477.0 1343.1,476.4 1337.6,475.8 1332.2,475.2 1326.7,474.6 1321.3,474.0 1315.8,473.4 1310.3,472.8 1304.9,472.2 1299.4,471.5 1294.0,470.9 1288.5,470.2 1283.1,469.5 1277.6,468.8 1272.2,468.1 1266.7,467.4 1261.3,466.6 1255.8,465.8 1250.4,465.0 1244.9,464.2 1239.5,463.3 1234.0,462.4 1228.6,461.5 1223.1,460.6 1217.6,459.6 1212.2,458.6 1206.7,457.5 1201.3,456.4 1195.8,455.3 1190.4,454.1 1184.9,452.9 1179.5,451.7 1174.0,450.4 1168.6,449.1 1163.1,447.7 1157.7,446.3 1152.2,444.8 1146.8,443.3 1141.3,441.7 1135.8,440.1 1130.4,438.4 1124.9,436.7 1119.5,435.0 1114.0,433.2 1108.6,431.3 1103.1,429.4 1097.7,427.4 1092.2,425.4 1086.8,423.3 1081.3,421.2 1075.9,419.0 1070.4,416.7 1065.0,414.4 1059.5,412.1 1054.0,409.7 1048.6,407.2 1043.1,404.7 1037.7,402.1 1032.2,399.4 1026.8,396.7 1021.3,394.0 1015.9,391.2 1010.4,388.3 1005.0,385.3 999.5,382.4 994.1,379.3 988.6,376.2 983.2,373.1 977.7,369.9 972.2,366.6 966.8,363.3 961.3,359.9 955.9,356.5 950.4,353.0 945.0,349.5 939.5,345.9 934.1,342.3 928.6,338.6 923.2,334.9 917.7,331.1 912.3,327.3 906.8,323.5 901.4,319.6 895.9,315.7 890.5,311.7 885.0,307.7 879.5,303.7 874.1,299.6 868.6,295.5 863.2,291.4 857.7,287.2 852.3,283.0 846.8,278.8 841.4,274.6 835.9,270.3 830.5,266.1 825.0,261.8 819.6,257.5 814.1,253.2 808.7,248.9 803.2,244.6Z" fill="#e60000"/>
<path d="M803.9,500.5 809.9,500.5 815.9,500.5 821.9,500.5 827.9,500.5 833.9,500.4 839.9,500.4 845.9,500.3 851.9,500.3 857.9,500.2 863.9,500.2 869.9,500.1 875.9,500.1 881.9,500.0 887.9,499.9 893.9,499.8 899.9,499.7 905.8,499.6 911.8,499.5 917.8,499.4 923.8,499.3 929.8,499.2 935.8,499.1 941.8,499.0 947.8,498.9 953.8,498.7 959.8,498.6 965.8,498.5 971.8,498.3 977.8,498.2 983.8,498.1 989.8,497.9 995.8,497.8 1001.8,497.6 1007.8,497.5 1013.8,497.3 1019.8,497.2 1025.8,497.0 1031.8,496.8 1037.8,496.7 1043.8,496.5 1049.8,496.3 1055.8,496.2 1061.8,496.0 1067.8,495.8 1073.8,495.7 1079.8,495.5 1085.8,495.3 1091.8,495.1 1097.8,495.0 1103.7,494.8 1109.7,494.6 1115.7,494.4 1121.7,494.3 1127.7,494.1 1133.7,493.9 1139.7,493.7 1145.7,493.6 1151.7,493.4 1157.7,493.2 1163.7,493.0 1169.7,492.9 1175.7,492.7 1181.7,492.5 1187.7,492.3 1193.7,492.2 1199.7,492.0 1205.7,491.8 1211.7,491.6 1217.7,491.5 1223.7,491.3 1229.7,491.1 1235.7,491.0 1241.7,490.8 1247.7,490.6 1253.7,490.4 1259.7,490.3 1265.7,490.1 1271.7,490.0 1277.7,489.8 1283.7,489.6 1289.7,489.5 1295.7,489.3 1301.6,489.2 1307.6,489.0 1313.6,488.9 1319.6,488.7 1325.6,488.6 1331.6,488.4 1337.6,488.3 1343.6,488.1 1349.6,488.0 1355.6,487.9 1361.6,487.7 1367.6,487.6 1373.6,487.5 1379.6,487.4 1385.6,487.2 1391.6,487.1 1397.6,487.0" stroke="#e60000" stroke-width="3.7" stroke-dasharray="15 20.6" stroke-dashoffset="0"/>
<path d="M803.9,449.0 809.9,448.5 815.9,448.0 821.9,447.6 827.9,447.1 833.9,446.7 839.9,446.2 845.9,445.8 851.9,445.4 857.9,445.0 863.9,444.7 869.9,444.3 875.9,444.0 881.9,443.6 887.9,443.3 893.9,443.0 899.9,442.7 905.8,442.4 911.8,442.1 917.8,441.9 923.8,441.6 929.8,441.3 935.8,441.1 941.8,440.9 947.8,440.7 953.8,440.5 959.8,440.3 965.8,440.1 971.8,439.9 977.8,439.7 983.8,439.6 989.8,439.4 995.8,439.3 1001.8,439.1 1007.8,439.0 1013.8,438.9 1019.8,438.8 1025.8,438.7 1031.8,438.6 1037.8,438.5 1043.8,438.4 1049.8,438.3 1055.8,438.3 1061.8,438.2 1067.8,438.1 1073.8,438.1 1079.8,438.0 1085.8,438.0 1091.8,437.9 1097.8,437.9 1103.7,437.9 1109.7,437.9 1115.7,437.8 1121.7,437.8 1127.7,437.8 1133.7,437.8 1139.7,437.8 1145.7,437.8 1151.7,437.8 1157.7,437.8 1163.7,437.8 1169.7,437.8 1175.7,437.9 1181.7,437.9 1187.7,437.9 1193.7,437.9 1199.7,437.9 1205.7,438.0 1211.7,438.0 1217.7,438.0 1223.7,438.0 1229.7,438.1 1235.7,438.1 1241.7,438.1 1247.7,438.2 1253.7,438.2 1259.7,438.2 1265.7,438.2 1271.7,438.3 1277.7,438.3 1283.7,438.3 1289.7,438.3 1295.7,438.4 1301.6,438.4 1307.6,438.4 1313.6,438.4 1319.6,438.4 1325.6,438.4 1331.6,438.4 1337.6,438.4 1343.6,438.4 1349.6,438.4 1355.6,438.4 1361.6,438.4 1367.6,438.4 1373.6,438.4 1379.6,438.4 1385.6,438.3 1391.6,438.3 1397.6,438.3" stroke="#000" stroke-width="3.25" stroke-dasharray="13.4 12.13 2.2 12.13 2.2 12.13" stroke-dashoffset="0"/>
<path d="M810.4,492.4v4.4M817.3,492.8v4.4M824.2,493.1v4.4M831.1,493.5v4.4M838.0,493.9v4.4M844.9,494.2v4.4M851.7,494.6v4.4M858.6,494.9v4.4M865.5,495.3v4.4M872.4,495.6v4.4M879.3,495.9v4.4M886.2,496.2v4.4M893.0,496.5v4.4M899.9,496.8v4.4M906.8,497.0v4.4M913.7,497.3v4.4M920.6,497.5v4.4M927.4,497.8v4.4M934.3,498.0v4.4M941.2,498.3v4.4M948.1,498.5v4.4M955.0,498.7v4.4M961.9,498.9v4.4M968.7,499.1v4.4M975.6,499.3v4.4M982.5,499.5v4.4M989.4,499.6v4.4M996.3,499.8v4.4M1003.2,500.0v4.4M1010.0,500.1v4.4M1016.9,500.3v4.4M1023.8,500.4v4.4M1030.7,500.5v4.4M1037.6,500.7v4.4M1044.5,500.8v4.4M1051.3,500.9v4.4M1058.2,501.0v4.4M1065.1,501.1v4.4M1072.0,501.2v4.4M1078.9,501.3v4.4M1085.8,501.4v4.4M1092.6,501.5v4.4M1099.5,501.6v4.4M1106.4,501.7v4.4M1113.3,501.7v4.4M1120.2,501.8v4.4M1127.1,501.9v4.4M1133.9,501.9v4.4M1140.8,502.0v4.4M1147.7,502.0v4.4M1154.6,502.1v4.4M1161.5,502.1v4.4M1168.4,502.2v4.4M1175.2,502.2v4.4M1182.1,502.3v4.4M1189.0,502.3v4.4M1195.9,502.3v4.4M1202.8,502.3v4.4M1209.7,502.4v4.4M1216.5,502.4v4.4M1223.4,502.4v4.4M1230.3,502.4v4.4M1237.2,502.5v4.4M1244.1,502.5v4.4M1251.0,502.5v4.4M1257.8,502.5v4.4M1264.7,502.5v4.4M1271.6,502.5v4.4M1278.5,502.6v4.4M1285.4,502.6v4.4M1292.2,502.6v4.4M1299.1,502.6v4.4M1306.0,502.6v4.4M1312.9,502.6v4.4M1319.8,502.6v4.4M1326.7,502.6v4.4M1333.5,502.6v4.4M1340.4,502.7v4.4M1347.3,502.7v4.4M1354.2,502.7v4.4M1361.1,502.7v4.4M1368.0,502.7v4.4M1374.8,502.7v4.4M1381.7,502.7v4.4M1388.6,502.8v4.4" stroke="#000" stroke-opacity="0.3" stroke-width="0.55"/>
<path d="M803.2,211.2 808.7,215.9 814.1,220.6 819.6,225.3 825.0,229.9 830.5,234.6 835.9,239.2 841.4,243.7 846.8,248.3 852.3,252.8 857.7,257.2 863.2,261.7 868.6,266.1 874.1,270.4 879.5,274.7 885.0,279.0 890.5,283.2 895.9,287.3 901.4,291.4 906.8,295.5 912.3,299.5 917.7,303.5 923.2,307.4 928.6,311.2 934.1,315.1 939.5,318.8 945.0,322.5 950.4,326.1 955.9,329.7 961.3,333.2 966.8,336.7 972.2,340.1 977.7,343.4 983.2,346.7 988.6,350.0 994.1,353.1 999.5,356.2 1005.0,359.3 1010.4,362.3 1015.9,365.2 1021.3,368.1 1026.8,370.9 1032.2,373.6 1037.7,376.3 1043.1,379.0 1048.6,381.6 1054.0,384.1 1059.5,386.6 1065.0,389.0 1070.4,391.3 1075.9,393.6 1081.3,395.9 1086.8,398.0 1092.2,400.2 1097.7,402.3 1103.1,404.3 1108.6,406.3 1114.0,408.2 1119.5,410.1 1124.9,411.9 1130.4,413.7 1135.8,415.4 1141.3,417.1 1146.8,418.7 1152.2,420.3 1157.7,421.8 1163.1,423.3 1168.6,424.8 1174.0,426.2 1179.5,427.6 1184.9,428.9 1190.4,430.2 1195.8,431.5 1201.3,432.7 1206.7,433.9 1212.2,435.1 1217.6,436.2 1223.1,437.3 1228.6,438.4 1234.0,439.4 1239.5,440.4 1244.9,441.4 1250.4,442.3 1255.8,443.3 1261.3,444.2 1266.7,445.1 1272.2,445.9 1277.6,446.8 1283.1,447.6 1288.5,448.4 1294.0,449.2 1299.4,450.0 1304.9,450.7 1310.3,451.5 1315.8,452.2 1321.3,452.9 1326.7,453.7 1332.2,454.4 1337.6,455.1 1343.1,455.8 1348.5,456.5 1354.0,457.1 1359.4,457.8 1364.9,458.5 1370.3,459.2 1375.8,459.8 1381.2,460.5 1386.7,461.2 1392.1,461.9 1397.6,462.6 1397.6,465.9 1392.1,465.3 1386.7,464.6 1381.2,463.9 1375.8,463.2 1370.3,462.5 1364.9,461.9 1359.4,461.2 1354.0,460.5 1348.5,459.8 1343.1,459.1 1337.6,458.5 1332.2,457.8 1326.7,457.0 1321.3,456.3 1315.8,455.6 1310.3,454.9 1304.9,454.1 1299.4,453.4 1294.0,452.6 1288.5,451.8 1283.1,451.0 1277.6,450.2 1272.2,449.3 1266.7,448.5 1261.3,447.6 1255.8,446.7 1250.4,445.7 1244.9,444.8 1239.5,443.8 1234.0,442.8 1228.6,441.8 1223.1,440.7 1217.6,439.6 1212.2,438.5 1206.7,437.3 1201.3,436.2 1195.8,434.9 1190.4,433.7 1184.9,432.4 1179.5,431.0 1174.0,429.7 1168.6,428.3 1163.1,426.8 1157.7,425.3 1152.2,423.8 1146.8,422.2 1141.3,420.6 1135.8,418.9 1130.4,417.2 1124.9,415.4 1119.5,413.6 1114.0,411.7 1108.6,409.8 1103.1,407.8 1097.7,405.8 1092.2,403.8 1086.8,401.6 1081.3,399.5 1075.9,397.2 1070.4,395.0 1065.0,392.6 1059.5,390.2 1054.0,387.8 1048.6,385.3 1043.1,382.7 1037.7,380.1 1032.2,377.4 1026.8,374.7 1021.3,371.9 1015.9,369.0 1010.4,366.1 1005.0,363.1 999.5,360.1 994.1,357.0 988.6,353.8 983.2,350.6 977.7,347.4 972.2,344.0 966.8,340.6 961.3,337.2 955.9,333.7 950.4,330.1 945.0,326.5 939.5,322.8 934.1,319.1 928.6,315.3 923.2,311.5 917.7,307.6 912.3,303.7 906.8,299.7 901.4,295.6 895.9,291.5 890.5,287.4 885.0,283.2 879.5,279.0 874.1,274.7 868.6,270.3 863.2,266.0 857.7,261.6 852.3,257.1 846.8,252.6 841.4,248.1 835.9,243.5 830.5,239.0 825.0,234.3 819.6,229.7 814.1,225.0 808.7,220.3 803.2,215.6Z" fill="#000"/>
<path d="M803.9,498.5 809.9,498.4 815.9,498.4 821.9,498.3 827.9,498.2 833.9,498.1 839.9,498.0 845.9,497.9 851.9,497.8 857.9,497.7 863.9,497.6 869.9,497.5 875.9,497.3 881.9,497.2 887.9,497.1 893.9,497.0 899.9,496.8 905.8,496.7 911.8,496.6 917.8,496.4 923.8,496.3 929.8,496.2 935.8,496.0 941.8,495.9 947.8,495.7 953.8,495.6 959.8,495.4 965.8,495.3 971.8,495.1 977.8,494.9 983.8,494.8 989.8,494.6 995.8,494.5 1001.8,494.3 1007.8,494.1 1013.8,494.0 1019.8,493.8 1025.8,493.7 1031.8,493.5 1037.8,493.3 1043.8,493.2 1049.8,493.0 1055.8,492.8 1061.8,492.6 1067.8,492.5 1073.8,492.3 1079.8,492.1 1085.8,492.0 1091.8,491.8 1097.8,491.6 1103.7,491.5 1109.7,491.3 1115.7,491.1 1121.7,491.0 1127.7,490.8 1133.7,490.6 1139.7,490.5 1145.7,490.3 1151.7,490.1 1157.7,490.0 1163.7,489.8 1169.7,489.6 1175.7,489.5 1181.7,489.3 1187.7,489.2 1193.7,489.0 1199.7,488.9 1205.7,488.7 1211.7,488.6 1217.7,488.4 1223.7,488.3 1229.7,488.1 1235.7,488.0 1241.7,487.9 1247.7,487.7 1253.7,487.6 1259.7,487.5 1265.7,487.3 1271.7,487.2 1277.7,487.1 1283.7,487.0 1289.7,486.9 1295.7,486.7 1301.6,486.6 1307.6,486.5 1313.6,486.4 1319.6,486.3 1325.6,486.2 1331.6,486.1 1337.6,486.1 1343.6,486.0 1349.6,485.9 1355.6,485.8 1361.6,485.7 1367.6,485.7 1373.6,485.6 1379.6,485.6 1385.6,485.5 1391.6,485.4 1397.6,485.4" stroke="#000" stroke-width="3.7" stroke-dasharray="15 20.6" stroke-dashoffset="0"/>
<path d="M803.9,449.2 809.9,448.3 815.9,447.4 821.9,446.4 827.9,445.5 833.9,444.6 839.9,443.6 845.9,442.7 851.9,441.8 857.9,440.9 863.9,440.0 869.9,439.1 875.9,438.2 881.9,437.3 887.9,436.4 893.9,435.6 899.9,434.7 905.8,433.9 911.8,433.1 917.8,432.3 923.8,431.5 929.8,430.7 935.8,430.0 941.8,429.2 947.8,428.5 953.8,427.8 959.8,427.1 965.8,426.4 971.8,425.8 977.8,425.1 983.8,424.5 989.8,423.9 995.8,423.4 1001.8,422.8 1007.8,422.3 1013.8,421.8 1019.8,421.3 1025.8,420.8 1031.8,420.4 1037.8,420.0 1043.8,419.6 1049.8,419.2 1055.8,418.8 1061.8,418.4 1067.8,418.1 1073.8,417.8 1079.8,417.5 1085.8,417.2 1091.8,416.9 1097.8,416.7 1103.7,416.5 1109.7,416.2 1115.7,416.0 1121.7,415.8 1127.7,415.7 1133.7,415.5 1139.7,415.4 1145.7,415.2 1151.7,415.1 1157.7,415.0 1163.7,414.9 1169.7,414.8 1175.7,414.8 1181.7,414.7 1187.7,414.6 1193.7,414.6 1199.7,414.6 1205.7,414.5 1211.7,414.5 1217.7,414.5 1223.7,414.5 1229.7,414.5 1235.7,414.6 1241.7,414.6 1247.7,414.6 1253.7,414.6 1259.7,414.7 1265.7,414.7 1271.7,414.8 1277.7,414.8 1283.7,414.9 1289.7,414.9 1295.7,415.0 1301.6,415.0 1307.6,415.1 1313.6,415.2 1319.6,415.2 1325.6,415.3 1331.6,415.4 1337.6,415.4 1343.6,415.5 1349.6,415.6 1355.6,415.6 1361.6,415.7 1367.6,415.8 1373.6,415.8 1379.6,415.9 1385.6,415.9 1391.6,416.0 1397.6,416.0" stroke="#0000e6" stroke-width="3.25" stroke-dasharray="13.4 12.13 2.2 12.13 2.2 12.13" stroke-dashoffset="0"/>
<path d="M810.4,492.7v4.4M817.3,493.1v4.4M824.2,493.5v4.4M831.1,493.9v4.4M838.0,494.2v4.4M844.9,494.6v4.4M851.7,494.9v4.4M858.6,495.2v4.4M865.5,495.6v4.4M872.4,495.9v4.4M879.3,496.2v4.4M886.2,496.5v4.4M893.0,496.7v4.4M899.9,497.0v4.4M906.8,497.3v4.4M913.7,497.5v4.4M920.6,497.8v4.4M927.4,498.0v4.4M934.3,498.3v4.4M941.2,498.5v4.4M948.1,498.7v4.4M955.0,498.9v4.4M961.9,499.1v4.4M968.7,499.3v4.4M975.6,499.5v4.4M982.5,499.7v4.4M989.4,499.8v4.4M996.3,500.0v4.4M1003.2,500.2v4.4M1010.0,500.3v4.4M1016.9,500.5v4.4M1023.8,500.6v4.4M1030.7,500.7v4.4M1037.6,500.9v4.4M1044.5,501.0v4.4M1051.3,501.1v4.4M1058.2,501.2v4.4M1065.1,501.3v4.4M1072.0,501.4v4.4M1078.9,501.5v4.4M1085.8,501.6v4.4M1092.6,501.7v4.4M1099.5,501.8v4.4M1106.4,501.9v4.4M1113.3,501.9v4.4M1120.2,502.0v4.4M1127.1,502.1v4.4M1133.9,502.1v4.4M1140.8,502.2v4.4M1147.7,502.2v4.4M1154.6,502.3v4.4M1161.5,502.3v4.4M1168.4,502.4v4.4M1175.2,502.4v4.4M1182.1,502.5v4.4M1189.0,502.5v4.4M1195.9,502.5v4.4M1202.8,502.6v4.4M1209.7,502.6v4.4M1216.5,502.6v4.4M1223.4,502.6v4.4M1230.3,502.7v4.4M1237.2,502.7v4.4M1244.1,502.7v4.4M1251.0,502.7v4.4M1257.8,502.7v4.4M1264.7,502.7v4.4M1271.6,502.8v4.4M1278.5,502.8v4.4M1285.4,502.8v4.4M1292.2,502.8v4.4M1299.1,502.8v4.4M1306.0,502.8v4.4M1312.9,502.8v4.4M1319.8,502.8v4.4M1326.7,502.8v4.4M1333.5,502.9v4.4M1340.4,502.9v4.4M1347.3,502.9v4.4M1354.2,502.9v4.4M1361.1,502.9v4.4M1368.0,502.9v4.4M1374.8,502.9v4.4M1381.7,503.0v4.4M1388.6,503.0v4.4" stroke="#0000c0" stroke-opacity="0.4" stroke-width="0.55"/>
<path d="M803.2,248.6 808.7,252.9 814.1,257.2 819.6,261.5 825.0,265.8 830.5,270.1 835.9,274.4 841.4,278.6 846.8,282.9 852.3,287.1 857.7,291.2 863.2,295.4 868.6,299.5 874.1,303.5 879.5,307.5 885.0,311.5 890.5,315.4 895.9,319.2 901.4,323.1 906.8,326.8 912.3,330.5 917.7,334.1 923.2,337.7 928.6,341.2 934.1,344.7 939.5,348.0 945.0,351.4 950.4,354.6 955.9,357.8 961.3,360.9 966.8,364.0 972.2,367.0 977.7,369.9 983.2,372.7 988.6,375.5 994.1,378.2 999.5,380.9 1005.0,383.5 1010.4,386.0 1015.9,388.4 1021.3,390.8 1026.8,393.1 1032.2,395.4 1037.7,397.6 1043.1,399.7 1048.6,401.8 1054.0,403.8 1059.5,405.8 1065.0,407.7 1070.4,409.5 1075.9,411.3 1081.3,413.0 1086.8,414.7 1092.2,416.4 1097.7,417.9 1103.1,419.5 1108.6,421.0 1114.0,422.4 1119.5,423.8 1124.9,425.2 1130.4,426.5 1135.8,427.8 1141.3,429.1 1146.8,430.3 1152.2,431.5 1157.7,432.6 1163.1,433.8 1168.6,434.9 1174.0,435.9 1179.5,437.0 1184.9,438.0 1190.4,439.0 1195.8,440.0 1201.3,440.9 1206.7,441.9 1212.2,442.8 1217.6,443.7 1223.1,444.6 1228.6,445.4 1234.0,446.3 1239.5,447.2 1244.9,448.0 1250.4,448.8 1255.8,449.6 1261.3,450.4 1266.7,451.2 1272.2,452.0 1277.6,452.8 1283.1,453.6 1288.5,454.4 1294.0,455.1 1299.4,455.9 1304.9,456.6 1310.3,457.3 1315.8,458.1 1321.3,458.8 1326.7,459.5 1332.2,460.2 1337.6,460.9 1343.1,461.5 1348.5,462.2 1354.0,462.8 1359.4,463.4 1364.9,464.0 1370.3,464.6 1375.8,465.2 1381.2,465.7 1386.7,466.2 1392.1,466.7 1397.6,467.1 1397.6,470.5 1392.1,470.0 1386.7,469.6 1381.2,469.1 1375.8,468.5 1370.3,468.0 1364.9,467.4 1359.4,466.8 1354.0,466.2 1348.5,465.6 1343.1,464.9 1337.6,464.2 1332.2,463.6 1326.7,462.9 1321.3,462.2 1315.8,461.5 1310.3,460.7 1304.9,460.0 1299.4,459.3 1294.0,458.5 1288.5,457.7 1283.1,457.0 1277.6,456.2 1272.2,455.4 1266.7,454.6 1261.3,453.8 1255.8,453.0 1250.4,452.2 1244.9,451.4 1239.5,450.5 1234.0,449.7 1228.6,448.8 1223.1,448.0 1217.6,447.1 1212.2,446.2 1206.7,445.3 1201.3,444.3 1195.8,443.4 1190.4,442.4 1184.9,441.4 1179.5,440.4 1174.0,439.3 1168.6,438.3 1163.1,437.2 1157.7,436.1 1152.2,434.9 1146.8,433.7 1141.3,432.5 1135.8,431.3 1130.4,430.0 1124.9,428.7 1119.5,427.3 1114.0,425.9 1108.6,424.4 1103.1,423.0 1097.7,421.4 1092.2,419.8 1086.8,418.2 1081.3,416.5 1075.9,414.8 1070.4,413.0 1065.0,411.2 1059.5,409.3 1054.0,407.4 1048.6,405.4 1043.1,403.3 1037.7,401.2 1032.2,399.0 1026.8,396.8 1021.3,394.5 1015.9,392.1 1010.4,389.7 1005.0,387.2 999.5,384.6 994.1,382.0 988.6,379.3 983.2,376.5 977.7,373.7 972.2,370.8 966.8,367.8 961.3,364.8 955.9,361.7 950.4,358.5 945.0,355.3 939.5,352.0 934.1,348.6 928.6,345.2 923.2,341.7 917.7,338.1 912.3,334.5 906.8,330.9 901.4,327.1 895.9,323.3 890.5,319.5 885.0,315.6 879.5,311.7 874.1,307.7 868.6,303.6 863.2,299.6 857.7,295.4 852.3,291.3 846.8,287.1 841.4,282.9 835.9,278.6 830.5,274.4 825.0,270.1 819.6,265.8 814.1,261.5 808.7,257.2 803.2,252.9Z" fill="#0000e6"/>
<path d="M803.9,500.2 809.9,500.2 815.9,500.1 821.9,500.1 827.9,500.0 833.9,500.0 839.9,499.9 845.9,499.9 851.9,499.8 857.9,499.8 863.9,499.7 869.9,499.6 875.9,499.6 881.9,499.5 887.9,499.4 893.9,499.4 899.9,499.3 905.8,499.2 911.8,499.1 917.8,499.1 923.8,499.0 929.8,498.9 935.8,498.8 941.8,498.8 947.8,498.7 953.8,498.6 959.8,498.5 965.8,498.4 971.8,498.3 977.8,498.2 983.8,498.2 989.8,498.1 995.8,498.0 1001.8,497.9 1007.8,497.8 1013.8,497.7 1019.8,497.6 1025.8,497.5 1031.8,497.4 1037.8,497.3 1043.8,497.2 1049.8,497.1 1055.8,497.0 1061.8,497.0 1067.8,496.9 1073.8,496.8 1079.8,496.7 1085.8,496.6 1091.8,496.5 1097.8,496.4 1103.7,496.3 1109.7,496.2 1115.7,496.1 1121.7,496.0 1127.7,495.9 1133.7,495.8 1139.7,495.7 1145.7,495.6 1151.7,495.5 1157.7,495.4 1163.7,495.3 1169.7,495.2 1175.7,495.1 1181.7,495.0 1187.7,494.9 1193.7,494.8 1199.7,494.7 1205.7,494.7 1211.7,494.6 1217.7,494.5 1223.7,494.4 1229.7,494.3 1235.7,494.2 1241.7,494.1 1247.7,494.0 1253.7,494.0 1259.7,493.9 1265.7,493.8 1271.7,493.7 1277.7,493.6 1283.7,493.6 1289.7,493.5 1295.7,493.4 1301.6,493.3 1307.6,493.3 1313.6,493.2 1319.6,493.1 1325.6,493.1 1331.6,493.0 1337.6,492.9 1343.6,492.9 1349.6,492.8 1355.6,492.8 1361.6,492.7 1367.6,492.6 1373.6,492.6 1379.6,492.5 1385.6,492.5 1391.6,492.4 1397.6,492.4" stroke="#0000e6" stroke-width="3.7" stroke-dasharray="15 20.6" stroke-dashoffset="0"/>
</g>
<text x="793.4" y="513.7" text-anchor="end" class="tk">0</text>
<text x="793.4" y="433.5" text-anchor="end" class="tk">50</text>
<text x="793.4" y="353.2" text-anchor="end" class="tk">100</text>
<text x="793.4" y="273.0" text-anchor="end" class="tk">150</text>
<text x="793.4" y="192.8" text-anchor="end" class="tk">200</text>
<text x="793.4" y="112.5" text-anchor="end" class="tk">250</text>
<text x="793.4" y="32.3" text-anchor="end" class="tk">300</text>
<text x="804.4" y="540.0" text-anchor="middle" class="tk">1.00</text>
<text x="952.5" y="540.0" text-anchor="middle" class="tk">1.05</text>
<text x="1100.7" y="540.0" text-anchor="middle" class="tk">1.10</text>
<text x="1248.8" y="540.0" text-anchor="middle" class="tk">1.15</text>
<text x="1396.9" y="540.0" text-anchor="middle" class="tk">1.20</text>
<text transform="translate(38.3,388.8) rotate(-90)" font-size="32.4">Mole fraction<tspan font-size="40" dx="-3.3" dy="4.3">×</tspan><tspan dx="-2.7" dy="-4.3">10</tspan><tspan dy="-12.5" font-size="20.5">-5</tspan></text>
<text transform="translate(741.3,388.8) rotate(-90)" font-size="32.4">Mole fraction<tspan font-size="40" dx="-3.3" dy="4.3">×</tspan><tspan dx="-2.7" dy="-4.3">10</tspan><tspan dy="-12.5" font-size="20.5">-5</tspan></text>
<text x="334.6" y="574.0" font-size="31.5" letter-spacing="-0.8">当量比<tspan font-size="32.3" letter-spacing="0" dx="1.5" dy="0.3">(Φ)</tspan></text>
<text x="1037.6" y="574.0" font-size="31.5" letter-spacing="-0.8">当量比<tspan font-size="32.3" letter-spacing="0" dx="1.5" dy="0.3">(Φ)</tspan></text>
<text x="120.5" y="65" font-size="33">(a) <tspan font-style="italic" dx="1.8">E</tspan><tspan dy="7.7" font-size="20.8">NH3</tspan><tspan dy="-7.7">＝</tspan><tspan dx="-0.6" letter-spacing="-0.5">0.6</tspan></text>
<text x="823.5" y="64.2" font-size="33">(b) <tspan font-style="italic" dx="4.8" dy="1.2">E</tspan><tspan dy="7.3" font-size="20.8">NH3</tspan><tspan dy="-7.3" dx="-1.5">＝</tspan><tspan dx="-0.6" letter-spacing="-0.5">0.8</tspan></text>
<text x="369.2" y="53.8" font-size="27">CH<tspan dy="7.0" font-size="17.3">4</tspan><tspan dy="-7.0">/NH</tspan><tspan dy="7.0" font-size="17.3">3</tspan></text>
<text x="492.3" y="53.8" font-size="27">CO/NH<tspan dy="7.0" font-size="17.3">3</tspan></text>
<text x="606.2" y="53.8" font-size="27">H<tspan dy="7.0" font-size="17.3">2</tspan><tspan dy="-7.0">/NH</tspan><tspan dy="7.0" font-size="17.3">3</tspan></text>
<text x="331.7" y="85.1" font-size="26.5">H</text>
<path d="M397.5,76.3 H458.5" stroke="#e60000" stroke-width="3.25" stroke-dasharray="13.8 12 2.4 12.6 2.4 11.6" fill="none"/>
<path d="M499,76.3 H560" stroke="#000" stroke-width="3.25" stroke-dasharray="13.8 12 2.4 12.6 2.4 11.6" fill="none"/>
<path d="M606.8,76.3 H668.3" stroke="#0000e6" stroke-width="3.25" stroke-dasharray="13.8 12 2.4 12.6 2.4 11.6" fill="none"/>
<text x="331.7" y="119.6" font-size="26.5">O</text>
<path d="M397.5,110.5 H458.5" stroke="#e60000" stroke-opacity="0.25" stroke-width="4" stroke-dasharray="0.6 6.45" stroke-dashoffset="-1" fill="none"/>
<path d="M499,110.5 H560" stroke="#000" stroke-opacity="0.25" stroke-width="4" stroke-dasharray="0.6 6.45" stroke-dashoffset="-1" fill="none"/>
<path d="M606.8,110.5 H668.3" stroke="#0000e6" stroke-opacity="0.25" stroke-width="4" stroke-dasharray="0.6 6.45" stroke-dashoffset="-1" fill="none"/>
<text x="331.7" y="152.8" font-size="26.5">OH</text>
<path d="M397.5,144.3 H458.5" stroke="#e60000" stroke-width="3.6" fill="none"/>
<path d="M499,144.3 H560" stroke="#000" stroke-width="3.6" fill="none"/>
<path d="M606.8,144.3 H668.3" stroke="#0000e6" stroke-width="3.6" fill="none"/>
<text x="331.7" y="187.3" font-size="26.5">NH<tspan dy="6.9" font-size="17.0">2</tspan></text>
<path d="M397.5,178.5 H458.5" stroke="#e60000" stroke-width="3.5" stroke-dasharray="14.8 20.6" stroke-dashoffset="-2.5" fill="none"/>
<path d="M499,178.5 H560" stroke="#000" stroke-width="2.2" stroke-dasharray="9.8 14.2" stroke-dashoffset="-2.5" fill="none"/>
<path d="M606.8,178.5 H668.3" stroke="#0000e6" stroke-width="3.5" stroke-dasharray="14.8 20.6" stroke-dashoffset="-2.5" fill="none"/>
<text x="1063" y="53.8" font-size="27">CH<tspan dy="7.0" font-size="17.3">4</tspan><tspan dy="-7.0">/NH</tspan><tspan dy="7.0" font-size="17.3">3</tspan></text>
<text x="1186" y="53.8" font-size="27">CO/NH<tspan dy="7.0" font-size="17.3">3</tspan></text>
<text x="1299" y="53.8" font-size="27">H<tspan dy="7.0" font-size="17.3">2</tspan><tspan dy="-7.0">/NH</tspan><tspan dy="7.0" font-size="17.3">3</tspan></text>
<text x="1035.6" y="83.5" font-size="24.6">H</text>
<path d="M1096.3,75 H1151.8" stroke="#e60000" stroke-width="3.25" stroke-dasharray="13.4 11.6 2.2 12.4 2.2 12" fill="none"/>
<path d="M1201.3,75 H1256.8" stroke="#000" stroke-width="3.25" stroke-dasharray="13.4 11.6 2.2 12.4 2.2 12" fill="none"/>
<path d="M1306.3,75 H1361.8" stroke="#0000e6" stroke-width="3.25" stroke-dasharray="13.4 11.6 2.2 12.4 2.2 12" fill="none"/>
<text x="1035.6" y="114.4" font-size="24.6">O</text>
<path d="M1096.3,106 H1151.8" stroke="#e60000" stroke-opacity="0.25" stroke-width="4" stroke-dasharray="0.6 6.45" stroke-dashoffset="-1" fill="none"/>
<path d="M1201.3,106 H1256.8" stroke="#000" stroke-opacity="0.25" stroke-width="4" stroke-dasharray="0.6 6.45" stroke-dashoffset="-1" fill="none"/>
<path d="M1306.3,106 H1361.8" stroke="#0000e6" stroke-opacity="0.25" stroke-width="4" stroke-dasharray="0.6 6.45" stroke-dashoffset="-1" fill="none"/>
<text x="1035.6" y="144.9" font-size="24.6">OH</text>
<path d="M1096.3,136.8 H1151.8" stroke="#e60000" stroke-width="3.6" fill="none"/>
<path d="M1201.3,136.8 H1256.8" stroke="#000" stroke-width="3.6" fill="none"/>
<path d="M1306.3,136.8 H1361.8" stroke="#0000e6" stroke-width="3.6" fill="none"/>
<text x="1035.6" y="176.5" font-size="24.6">NH<tspan dy="6.4" font-size="15.7">2</tspan></text>
<path d="M1096.3,168 H1151.8" stroke="#e60000" stroke-width="3.5" stroke-dasharray="14.8 20.6" stroke-dashoffset="-2.5" fill="none"/>
<path d="M1201.3,168 H1256.8" stroke="#000" stroke-width="3.5" stroke-dasharray="14.8 20.6" stroke-dashoffset="-2.5" fill="none"/>
<path d="M1306.3,168 H1361.8" stroke="#0000e6" stroke-width="3.5" stroke-dasharray="14.8 20.6" stroke-dashoffset="-2.5" fill="none"/>
<text x="224.6" y="161.2" font-size="32.3">OH</text>
<text x="236" y="384.7" font-size="32.3">H</text>
<text x="219" y="450" font-size="32.3">NH<tspan dy="8.4" font-size="20.7">2</tspan></text>
<text x="460.1" y="494.5" font-size="32.3">O</text>
</svg></body></html>
